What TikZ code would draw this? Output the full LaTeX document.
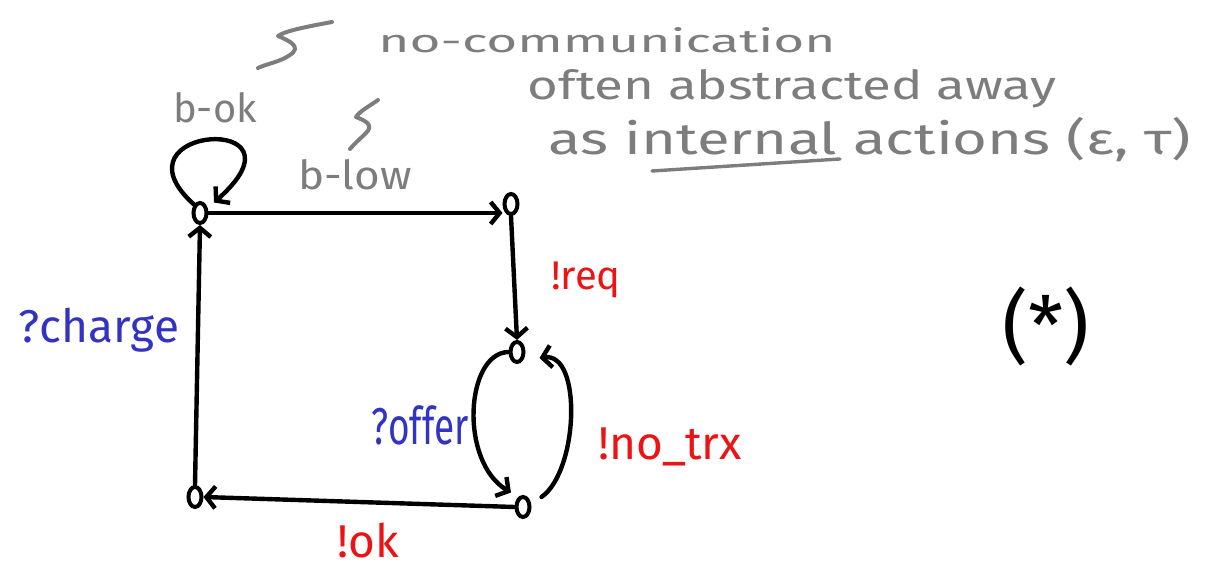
\documentclass[tikz,border=0pt]{standalone}
\usepackage{fontspec}
\usepackage{graphicx}
\setmainfont{Fira Sans}
\usetikzlibrary{arrows.meta,shapes.geometric,calc}
\newcommand\fsz[1]{\fontsize{#1}{#1}\selectfont}
\definecolor{pgray}{RGB}{125,125,125}
\definecolor{pred}{RGB}{235,20,20}
\definecolor{pblue}{RGB}{50,50,195}
\tikzset{
  state/.style={draw, ellipse, line width=4pt, minimum width=13pt, minimum height=20pt, inner sep=0pt},
  edge/.style={line width=4.4pt, line cap=round, -{Straight Barb[length=9pt,width=22pt,line width=4.4pt]}},
  note/.style={text=pgray, inner sep=0pt},
  outlbl/.style={text=pred, inner sep=0pt},
  inlbl/.style={text=pblue, inner sep=0pt},
  squig/.style={draw=pgray, line width=4pt, line cap=round, line join=round}
}
\begin{document}
\begin{tikzpicture}[x=1pt,y=1pt]
\useasboundingbox (0,0) rectangle (1210,569);
% states
\node[state] (s0) at (200,356) {};
\node[state] (s1) at (511,365) {};
\node[state] (s2) at (517,217) {};
\node[state] (s3) at (195,72) {};
\node[state] (s4) at (523,62) {};
% transitions
\draw[edge] (s0.east) -- (s0.east -| s1.west);
\draw[edge] (s1.south) -- (s2.north);
\draw[edge] (s3.north) -- (s0.south);
\draw[edge] (s4.west) -- (s3.east);
\draw[edge] (s0.north west) .. controls +(-88,79) and +(103,91) .. ($(s0.north east)+(8,2)$);
\draw[edge] (s2.west) .. controls +(-43,-1) and +(-52,31) .. ($(s4.north west)+(-6,6)$);
\draw[edge] ($(s4.east)+(10,10)$) .. controls +(37,26) and +(43,6) .. ($(s2.east)+(14,-6)$);
% labels
\node[note, font=\fsz{40}] (bok) at (215,461) {b-ok};
\node[note, font=\fsz{40}] (blow) at (355,394) {\scalebox{1.1}[1]{b-low}};
\node[note, font=\fsz{32}, anchor=base] (nocom) at (607,516) {\scalebox{1.66}[1]{no-communication}};
\node[note, font=\fsz{40}, anchor=base] (often) at (792,469) {\scalebox{1.32}[1]{often abstracted away}};
\node[note, font=\fsz{44}, anchor=base] (asint) at (870,414) {\scalebox{1.36}[1]{as internal actions (ε, τ)}};
\draw[pgray, line width=3.4pt, line cap=round] (652,398) -- (840,410);
\draw[squig] (332,547) .. controls (305,542) and (285,538) .. (278,533) .. controls (290,528) and (302,522) .. (290,514) .. controls (280,507) and (266,505) .. (258,501);
\draw[squig] (378,469) .. controls (368,462) and (360,458) .. (356,452) .. controls (366,448) and (374,444) .. (366,436) .. controls (360,430) and (354,425) .. (350,420);
\node[outlbl, font=\fsz{40}, anchor=base] (lreq) at (586,279) {!req};
\node[inlbl, font=\fsz{46}, anchor=base] (lcharge) at (99,226) {?charge};
\node[inlbl, font=\fsz{37}] (loffer) at (420,144) {\scalebox{1}[1.4]{?offer}};
\node[outlbl, font=\fsz{46}] (lnotrx) at (670,122) {!no\_trx};
\node[outlbl, font=\fsz{46}] (lok) at (368,28) {!ok};
\node[inner sep=0pt, font=\fsz{80}] (star) at (1046,242) {(*)};
\end{tikzpicture}
\end{document}
